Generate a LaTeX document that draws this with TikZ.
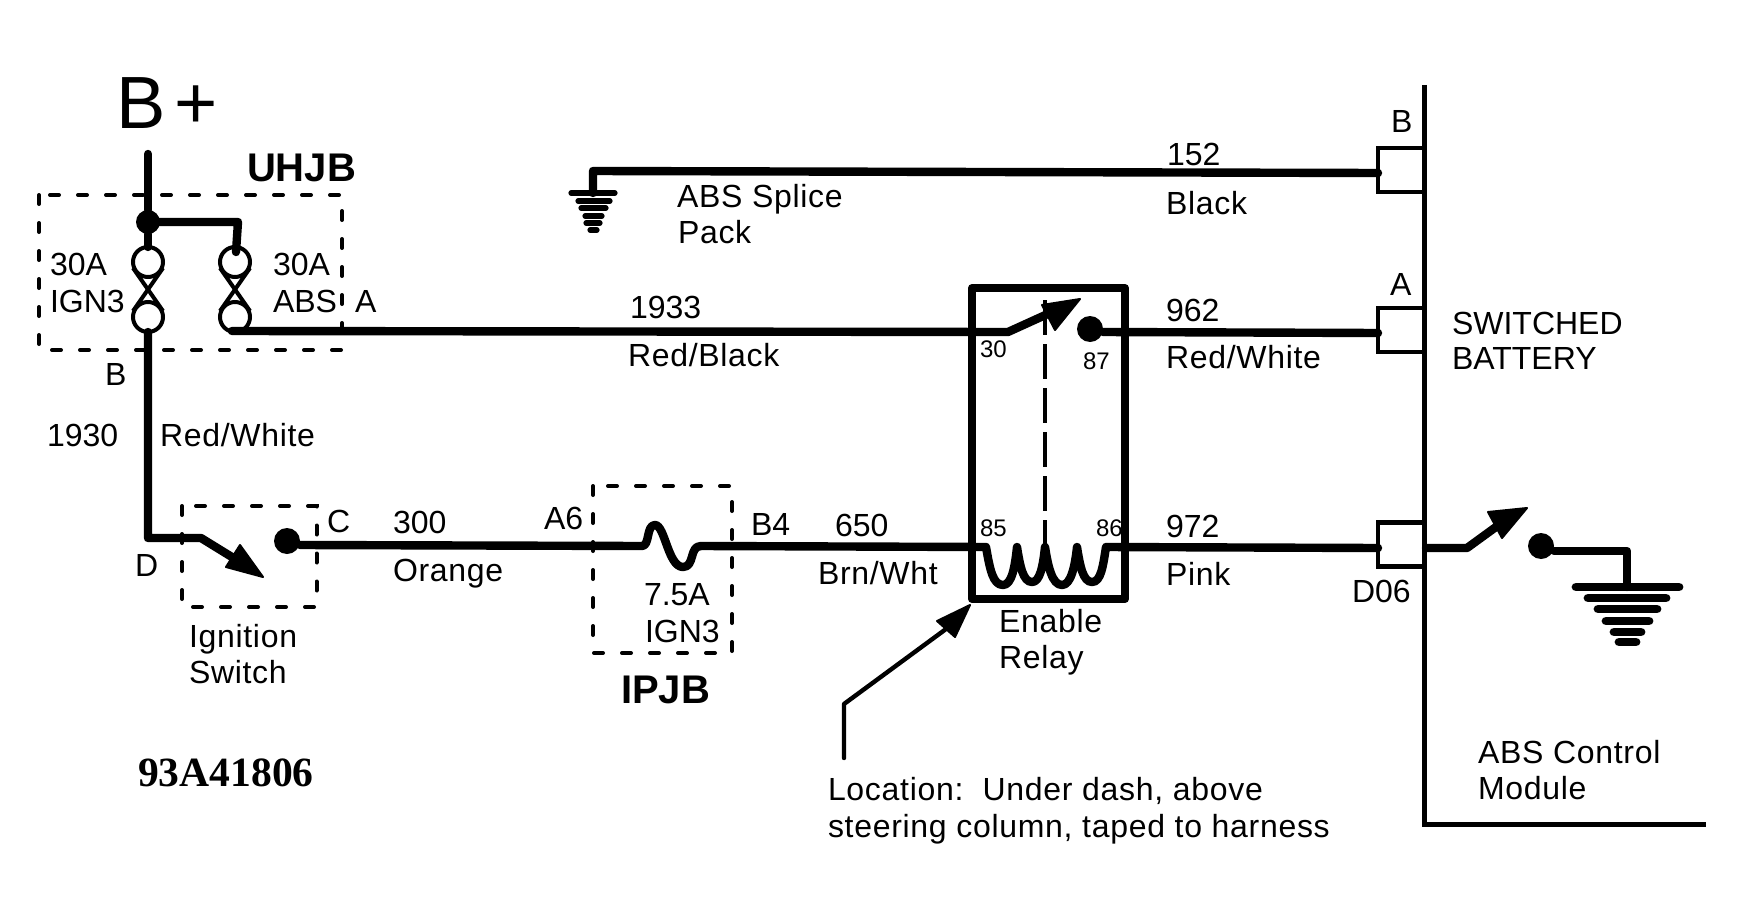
\documentclass[tikz,border=0pt]{standalone}
\usepackage{fontspec}
\setmainfont{Liberation Sans}
\newfontfamily\serifnum{Liberation Serif}
\newfontfamily\widesans[LetterSpace=2.2]{Liberation Sans}
\tikzset{
  x=0.5pt,y=-0.5pt,
  txt/.style={anchor=base west,inner sep=0pt,outer sep=0pt,font=\fontsize{16}{18}\selectfont},
  txtl/.style={anchor=base west,inner sep=0pt,outer sep=0pt,font=\fontsize{16}{18}\widesans},
  pin/.style={txt,font=\fontsize{12}{14}\selectfont},
  heavy/.style={txt,font=\fontsize{20}{22}\selectfont\bfseries},
  wire/.style={line width=4.2pt,line join=round,line cap=round},
  dashbox/.style={line width=2pt,line cap=round,dash pattern=on 4.5pt off 9.5pt},
  contact/.style={circle,fill=black,inner sep=0pt,minimum size=13pt,outer sep=0pt},
  fuselink/.style={circle,draw,line width=2pt,inner sep=0pt,minimum size=15pt,outer sep=0pt},
  fusex/.style={line width=2pt},
  conn/.style={rectangle,draw,line width=2.2pt,inner sep=0pt,outer sep=0pt,minimum width=23pt,minimum height=22pt},
  head/.style={fill=black,draw=black,line width=1pt,line join=round},
  bar/.style={line cap=round},
}
\begin{document}
\begin{tikzpicture}
\useasboundingbox (0,0) rectangle (1745,920);
\fill[white] (0,0) rectangle (1745,920);

% module outline
\coordinate (busT) at (1424,85);
\coordinate (busB) at (1424,824);
\coordinate (busE) at (1706,824);
\draw[line width=2.5pt,line join=miter] (busT) -- (busB) -- (busE);

% connectors
\node[conn] (cB) at (1401,170) {};
\node[conn] (cA) at (1401,330) {};
\node[conn] (cD) at (1401,544.5) {};
\coordinate (cBw) at (1378,173);
\coordinate (cAw) at (1378,333);
\coordinate (cDw) at (1378,548);
\coordinate (cDe) at (1426,548);

% B+ feed and UHJB
\draw[dashbox] (39,195) rectangle (342,350);
\coordinate (top) at (148,154);
\node[contact,minimum size=12pt] (jct) at (148,222) {};
\node[fuselink] (f1a) at (148,262) {};
\node[fuselink] (f1b) at (148,317) {};
\node[fuselink] (f2a) at (235,262) {};
\node[fuselink] (f2b) at (235,317) {};
\coordinate (jr) at (238,222);
\coordinate (f2t) at (236,252);
\draw[wire] (top) -- (jct) -- (f1a.north);
\draw[wire] (jct) -- (jr) -- (f2t);
\draw[fusex] (133,268) -- (163,311) (163,268) -- (133,311);
\draw[fusex] (220,268) -- (250,311) (250,268) -- (220,311);

% B wire to ignition switch
\coordinate (corner) at (148,538);
\coordinate (armS) at (201,538);
\draw[wire] (f1b.south) -- (corner) -- (armS) -- (240,562);
\draw[head] (263,577) -- (240,545) -- (226,567) -- cycle;
\node[contact] (ignC) at (287,541) {};
\draw[dashbox] (182,506) rectangle (316.5,607);

% 300 wire, fuse, 650 wire, coil
\coordinate (fs) at (642,546);
\coordinate (fe) at (701,546);
\coordinate (coilS) at (986,547);
\coordinate (coilE) at (1106,547);
\draw[wire] (ignC.east) ++(0,4) -- (fs)
  .. controls (650,546) and (646,525) .. (655,525)
  .. controls (665,525) and (668,567) .. (683,567)
  .. controls (695,567) and (689,546) .. (fe) -- (coilS)
  .. controls (990,570) and (993,585) .. (1003,585)
  .. controls (1012,585) and (1015,566) .. (1017,547)
  .. controls (1020,566) and (1023,582) .. (1032,582)
  .. controls (1040,582) and (1043,566) .. (1045,547)
  .. controls (1048,566) and (1052,585) .. (1062,585)
  .. controls (1071,585) and (1075,566) .. (1077,547)
  .. controls (1080,566) and (1083,582) .. (1092,582)
  .. controls (1101,582) and (1103,566) .. (coilE) -- (cDw);
\draw[dashbox] (593,486) rectangle (732,653);

% relay
\node[rectangle,draw,line width=4pt,line join=round,inner sep=0pt,outer sep=0pt,minimum width=76.5pt,minimum height=155.5pt] (relay) at (1048.5,443.5) {};
\coordinate (mechT) at (1045,300);
\coordinate (mechB) at (1045,547);
\draw[line width=2.2pt,dash pattern=on 17.5pt off 4.5pt] (mechT) -- (mechB);

% 1933 wire and contact
\coordinate (f2w) at (232,331);
\coordinate (armR) at (1008,332);
\draw[wire] (f2w) -- (armR) -- (1052,312);
\draw[head] (1080,299) -- (1042,305) -- (1055,330) -- cycle;
\node[contact] (c87) at (1090,329) {};
\draw[wire] (c87.east) ++(0,3) -- (cAw);

% 152 wire and ground
\coordinate (g1) at (593,193);
\draw[wire] (cBw) -- (593,171) -- (g1);
\foreach \yy/\xa/\xb in {193/571/615,201/578/610,208/581/606,216/585/602,223/586/600,230/590/597}
  \draw[bar,line width=2.6pt] (\xa,\yy) -- (\xb,\yy);

% D06 to external switch and ground
\coordinate (armG) at (1467,548);
\draw[wire] (cDe) -- (armG) -- (1500,524);
\draw[head] (1527,508) -- (1488,512) -- (1502,538) -- cycle;
\node[contact] (cG) at (1541,546) {};
\coordinate (gc) at (1627,551);
\coordinate (g2) at (1627,587);
\draw[wire] (cG.east) ++(0,5) -- (gc) -- (g2);
\foreach \yy/\xa/\xb in {587/1576/1679,598/1588/1666,609/1598/1657,621/1606/1649,632/1614/1641,642/1619/1636}
  \draw[bar,line width=4.4pt] (\xa,\yy) -- (\xb,\yy);

% location pointer
\coordinate (lb) at (844,758);
\coordinate (lk) at (844,704);
\draw[line width=2.2pt,line join=round,line cap=round] (lb) -- (lk) -- (946,629);
\draw[head] (970,605) -- (937,621) -- (955,637) -- cycle;

% texts
\node[txt,font=\fontsize{37}{40}\selectfont] (tBplus) at (116,128) {B\kern4.5pt+};
\node[heavy] (tUHJB) at (247,181) {UHJB};
\node[txt] (t30a) at (50,275) {30A};
\node[txt] (tIGNa) at (50,312) {IGN3};
\node[txt] (t30b) at (273,275) {30A};
\node[txt] (tABS) at (273,312) {ABS};
\node[txt] (tA) at (355,312) {A};
\node[txt] (tB) at (105,385) {B};
\node[txt] (t1930) at (47,446) {1930};
\node[txtl] (tRW1) at (160,446) {Red/White};
\node[txt] (tD) at (135,576) {D};
\node[txt] (tC) at (327,532) {C};
\node[txt] (t300) at (393,533) {300};
\node[txtl] (tOr) at (393,581) {Orange};
\node[txt] (tA6) at (544,529) {A6};
\node[txt] (t75) at (644,605) {7.5A};
\node[txt] (tIGNb) at (645,642) {IGN3};
\node[heavy] (tIPJB) at (621,703) {IPJB};
\node[txtl] (tIg) at (189,647) {Ignition};
\node[txtl] (tSw) at (189,683) {Switch};
\node[txt] (tB4) at (751,535) {B4};
\node[txt] (t650) at (835,536) {650};
\node[txtl] (tBW) at (818,584) {Brn/Wht};
\node[txtl] (tSpl) at (677,207) {ABS Splice};
\node[txtl] (tPack) at (678,243) {Pack};
\node[txt] (t1933) at (630,318) {1933};
\node[txtl] (tRB) at (628,366) {Red/Black};
\node[pin] (p30) at (980,357) {30};
\node[pin] (p87) at (1083,369) {87};
\node[pin] (p85) at (980,536) {85};
\node[pin] (p86) at (1096,536) {86};
\node[txtl] (tEn) at (999,632) {Enable};
\node[txtl] (tRe) at (999,668) {Relay};
\node[txt] (t152) at (1167,165) {152};
\node[txtl] (tBk) at (1166,214) {Black};
\node[txt] (t962) at (1166,321) {962};
\node[txtl] (tRW2) at (1166,368) {Red/White};
\node[txt] (t972) at (1166,537) {972};
\node[txtl] (tPi) at (1166,585) {Pink};
\node[txt] (tD06) at (1352,602) {D06};
\node[txt] (tlB) at (1391,133) {B};
\node[txt] (tlA) at (1390,295) {A};
\node[txt] (tSWa) at (1452,334) {SWITCHED};
\node[txt] (tSWb) at (1452,369) {BATTERY};
\node[txtl] (tAC) at (1478,763) {ABS Control};
\node[txtl] (tMo) at (1478,799) {Module};
\node[txtl] (tL1) at (828,800) {Location:\ \ Under dash, above};
\node[txtl] (tL2) at (828,837) {steering column, taped to harness};
\node[txt,font=\fontsize{20.8}{24}\serifnum\bfseries] (tNum) at (138,786) {93A41806};
\end{tikzpicture}
\end{document}
